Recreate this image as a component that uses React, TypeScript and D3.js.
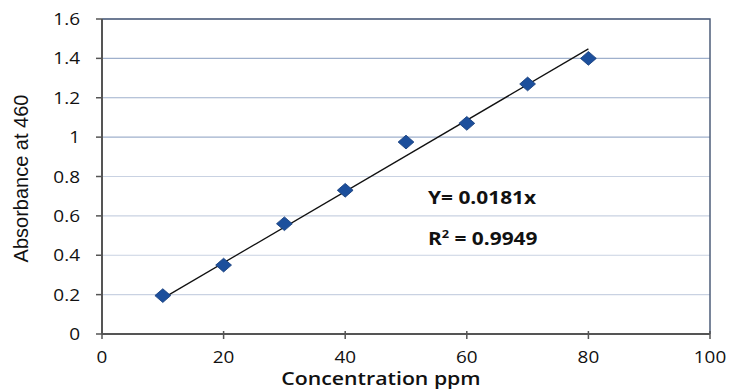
import { useEffect, useRef } from 'react'
import * as d3 from 'd3'

const concentration = [10, 20, 30, 40, 50, 60, 70, 80]
const absorbance = [0.195, 0.35, 0.56, 0.73, 0.975, 1.07, 1.27, 1.40]
const xTicks = [0, 20, 40, 60, 80, 100]
const yTicks = [0, 0.2, 0.4, 0.6, 0.8, 1, 1.2, 1.4, 1.6]
const slope = 0.0181
const fitRange = [10, 80]

export default function App() {
  const svgRef = useRef<SVGSVGElement>(null)
  const width = 730
  const height = 391

  useEffect(() => {
    if (!svgRef.current) return
    const svg = d3.select(svgRef.current)
    svg.selectAll('*').remove()

    const margin = { top: 19, right: 20, bottom: 57, left: 102 }
    const font = 'Open Sans, Liberation Sans, sans-serif'

    const x = d3.scaleLinear().domain([0, 100]).range([margin.left, width - margin.right])
    const y = d3.scaleLinear().domain([0, 1.6]).range([height - margin.bottom, margin.top])

    // text drawn a bit wider than the font, like the source image
    const label = (tx: number, ty: number, sx: number, size: number, anchor: string) =>
      svg.append('text')
        .attr('transform', `translate(${tx},${ty}) scale(${sx},1)`)
        .attr('text-anchor', anchor)
        .style('fill', '#111')
        .style('font-size', `${size}px`)
        .style('font-family', font)

    // Gridlines
    yTicks.forEach(t => {
      if (t === 0) return
      svg.append('line')
        .attr('x1', x(0)).attr('x2', x(100))
        .attr('y1', y(t)).attr('y2', y(t))
        .style('stroke', t >= 1 ? '#9fb0cc' : '#c9d2e2')
        .style('stroke-width', '1.2px')
    })

    // Frame top/right
    svg.append('path')
      .attr('d', `M${x(0)},${y(1.6)}H${x(100)}V${y(0)}`)
      .style('fill', 'none')
      .style('stroke', '#4d5d7a')
      .style('stroke-width', '1.5px')

    // Axes
    svg.append('line')
      .attr('x1', x(0)).attr('x2', x(100))
      .attr('y1', y(0)).attr('y2', y(0))
      .style('stroke', '#555')
      .style('stroke-width', '2px')
    svg.append('line')
      .attr('x1', x(0)).attr('x2', x(0))
      .attr('y1', y(0)).attr('y2', y(1.6))
      .style('stroke', '#555')
      .style('stroke-width', '2px')

    // Y ticks and labels
    yTicks.forEach(t => {
      svg.append('line')
        .attr('x1', x(0) - 6).attr('x2', x(0))
        .attr('y1', y(t)).attr('y2', y(t))
        .style('stroke', '#555')
        .style('stroke-width', '1.5px')
      label(80, y(t) + 6, 1.15, 16.5, 'end').text(String(t))
    })

    // X ticks and labels
    xTicks.forEach(t => {
      svg.append('line')
        .attr('x1', x(t)).attr('x2', x(t))
        .attr('y1', y(0) - 3).attr('y2', y(0) + 5)
        .style('stroke', '#555')
        .style('stroke-width', '1.5px')
      label(x(t), 363, 1.22, 15.5, 'middle').text(String(t))
    })

    // Trend line
    svg.append('line')
      .attr('x1', x(fitRange[0])).attr('y1', y(slope * fitRange[0]))
      .attr('x2', x(fitRange[1])).attr('y2', y(slope * fitRange[1]))
      .style('stroke', '#111')
      .style('stroke-width', '1.3px')

    // Markers
    const diamond = d3.symbol().type(d3.symbolDiamond2).size(120)
    svg.selectAll('.pt')
      .data(concentration.map((c, i) => ({ c, a: absorbance[i] })))
      .join('path')
      .attr('d', diamond)
      .attr('transform', d => `translate(${x(d.c)},${y(d.a)}) scale(1.15,1)`)
      .style('fill', '#1c4f9c')
      .style('stroke', '#173f7d')
      .style('stroke-width', '0.8px')

    // Equation
    label(428, 204, 1.16, 18, 'start')
      .style('font-weight', 'bold')
      .text(`Y= ${slope}x`)
    const r2 = label(428, 245, 1.16, 18, 'start').style('font-weight', 'bold')
    r2.append('tspan').text('R')
    r2.append('tspan').attr('dy', -7).style('font-size', '11px').text('2')
    r2.append('tspan').attr('dy', 7).text(' = 0.9949')

    // Axis titles
    label(381, 385, 1.15, 18.5, 'middle')
      .style('font-weight', '600')
      .text('Concentration ppm')
    svg.append('text')
      .attr('transform', `translate(28,${(y(0) + y(1.6)) / 2 + 2}) rotate(-90)`)
      .attr('text-anchor', 'middle')
      .style('fill', '#111')
      .style('font-size', '20px')
      .style('font-family', 'Liberation Sans Narrow, Arial Narrow, sans-serif')
      .text('Absorbance  at 460')
  }, [])

  return (
    <svg
      ref={svgRef}
      width={width}
      height={height}
      style={{ position: 'absolute', left: 0, top: 0, background: '#fff' }}
    />
  )
}
